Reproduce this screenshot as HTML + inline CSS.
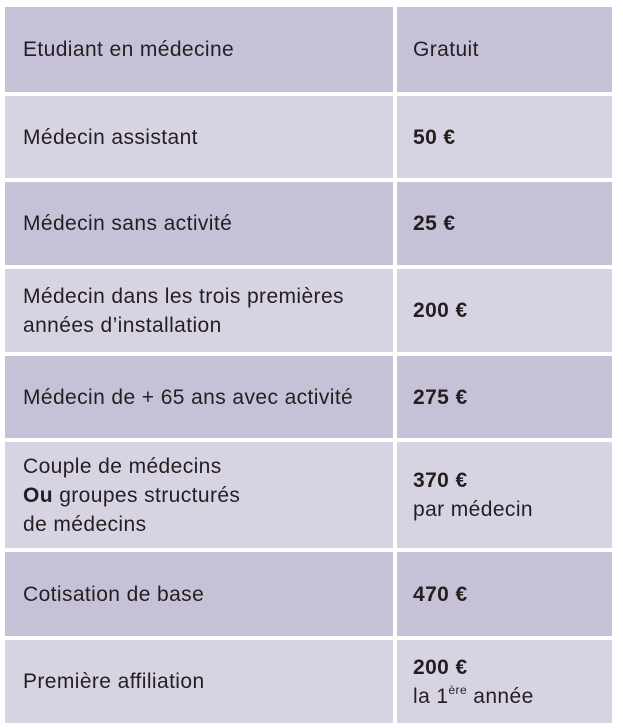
<!DOCTYPE html>
<html><head><meta charset="utf-8"><style>
body{margin:0;width:623px;height:728px;background:#fff;font-family:"Liberation Sans",sans-serif;color:#231f20;}
.c{position:absolute;display:flex;align-items:center;box-sizing:border-box;font-size:21px;letter-spacing:0.4px;line-height:29px;}
.l{left:5px;width:388px;padding-left:18px}
.r{left:397px;width:215px;padding-left:16px}
.d{background:#c6c1d7}.g{background:#d7d3e3}
b{font-weight:bold}
sup{font-size:12px;vertical-align:9px;line-height:0}
</style></head><body>
<div class="c l d" style="top:7px;height:85px">Etudiant en médecine</div>
<div class="c r d" style="top:7px;height:85px">Gratuit</div>
<div class="c l g" style="top:96px;height:82px">Médecin assistant</div>
<div class="c r g" style="top:96px;height:82px"><b>50 €</b></div>
<div class="c l d" style="top:182px;height:83px">Médecin sans activité</div>
<div class="c r d" style="top:182px;height:83px"><b>25 €</b></div>
<div class="c l g" style="top:269px;height:83px"><div>Médecin dans les trois premières<br>années d’installation</div></div>
<div class="c r g" style="top:269px;height:83px"><b>200 €</b></div>
<div class="c l d" style="top:356px;height:82px">Médecin de + 65 ans avec activité</div>
<div class="c r d" style="top:356px;height:82px"><b>275 €</b></div>
<div class="c l g" style="top:442px;height:106px"><div>Couple de médecins<br><b>Ou</b> groupes structurés<br>de médecins</div></div>
<div class="c r g" style="top:442px;height:106px"><div><b>370 €</b><br>par médecin</div></div>
<div class="c l d" style="top:552px;height:84px">Cotisation de base</div>
<div class="c r d" style="top:552px;height:84px"><b>470 €</b></div>
<div class="c l g" style="top:640px;height:83px">Première affiliation</div>
<div class="c r g" style="top:640px;height:83px"><div><b>200 €</b><br>la 1<sup>ère</sup> année</div></div>
</body></html>
